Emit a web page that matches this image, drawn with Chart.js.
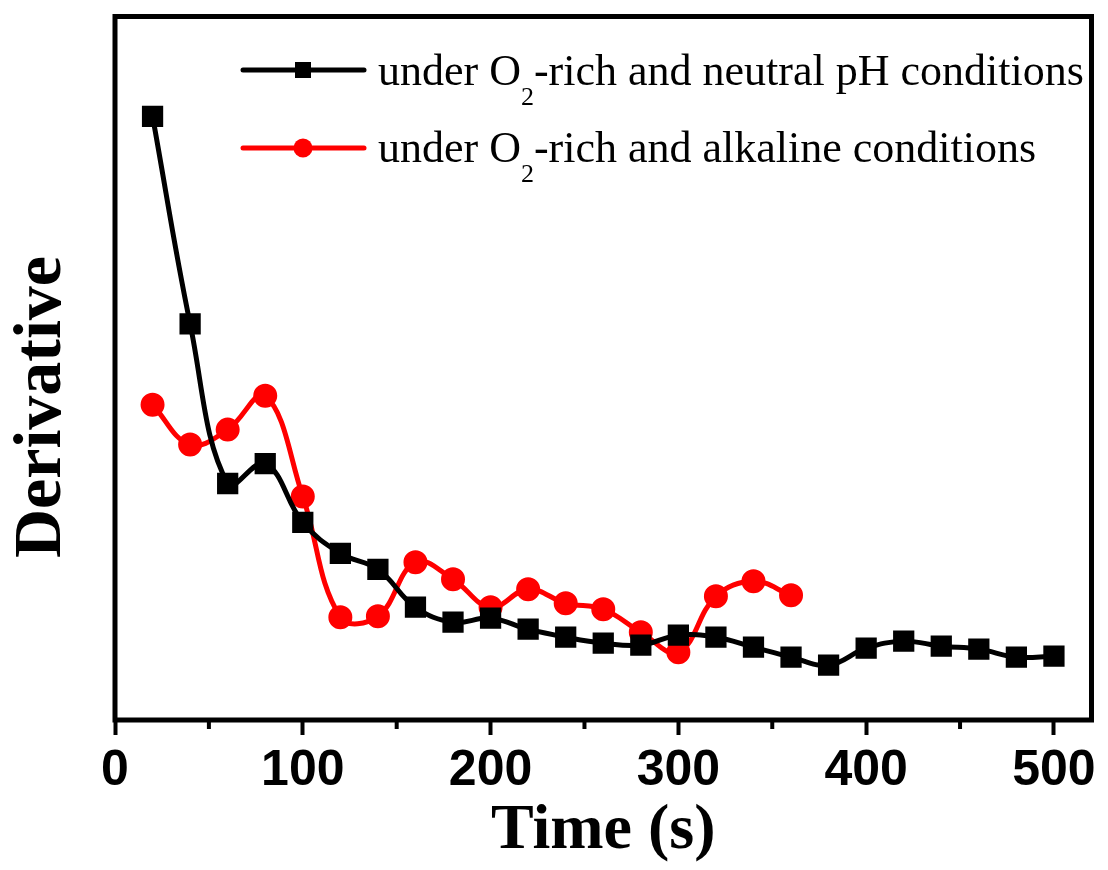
<!DOCTYPE html>
<html>
<head>
<meta charset="utf-8">
<title>Derivative vs Time</title>
<script src="https://cdn.jsdelivr.net/npm/chart.js@4/dist/chart.umd.min.js"></script>
<style>
  html, body { margin: 0; padding: 0; background: #fff; }
  #wrap { width: 1108px; height: 870px; position: relative; }
</style>
</head>
<body>
<div id="wrap"><canvas id="derivChart"></canvas></div>
<script>
  /* ── Data (arbitrary derivative units) ── */
  const timeNeutral = [20, 40, 60, 80, 100, 120, 140, 160, 180, 200, 220, 240, 260,
                       280, 300, 320, 340, 360, 380, 400, 420, 440, 460, 480, 500];
  const derivNeutral = [6.05, 3.97, 2.37, 2.57, 1.98, 1.67, 1.51, 1.13, 0.98, 1.02, 0.91, 0.83, 0.77,
                        0.75, 0.85, 0.83, 0.73, 0.63, 0.55, 0.72, 0.79, 0.74, 0.71, 0.63, 0.64];
  const timeAlkaline = [20, 40, 60, 80, 100, 120, 140, 160, 180, 200, 220, 240, 260,
                        280, 300, 320, 340, 360];
  const derivAlkaline = [3.16, 2.76, 2.91, 3.25, 2.24, 1.03, 1.04, 1.58, 1.41, 1.13, 1.31, 1.17, 1.11,
                         0.88, 0.68, 1.24, 1.39, 1.25];
  const seriesNames = ['neutral pH', 'alkaline'];
  const xTicks = [0, 100, 200, 300, 400, 500];
  const xMinorTicks = [50, 150, 250, 350, 450];

  const toPoints = (xs, ys) => xs.map((x, i) => ({ x, y: ys[i] }));
  const SERIF = '"Liberation Serif", "Times New Roman", serif';

  /* ── Frame, minor ticks, y title and legend (O2 needs a subscript) ── */
  const extras = {
    id: 'extras',
    afterDraw(chart) {
      const { ctx, chartArea: a, scales } = chart;
      ctx.save();
      ctx.strokeStyle = '#000';
      ctx.lineWidth = 5;
      ctx.strokeRect(a.left, a.top, a.right - a.left, a.bottom - a.top);

      ctx.lineWidth = 4;
      xMinorTicks.forEach(v => {
        const px = scales.x.getPixelForValue(v);
        ctx.beginPath();
        ctx.moveTo(px, a.bottom);
        ctx.lineTo(px, a.bottom + 9);
        ctx.stroke();
      });

      // y title sits a little below the centre in the original
      ctx.save();
      ctx.translate(42, 407);
      ctx.rotate(-Math.PI / 2);
      ctx.fillStyle = '#000';
      ctx.font = 'bold 68px ' + SERIF;
      ctx.textAlign = 'center';
      ctx.textBaseline = 'middle';
      ctx.fillText('Derivative', 0, 0);
      ctx.restore();

      const rows = [
        { ds: chart.data.datasets[0], y: 70, base: 85 },
        { ds: chart.data.datasets[1], y: 148, base: 162 }
      ];
      rows.forEach(r => {
        ctx.strokeStyle = r.ds.borderColor;
        ctx.fillStyle = r.ds.borderColor;
        ctx.lineWidth = 5;
        ctx.lineCap = 'round';
        ctx.beginPath();
        ctx.moveTo(243, r.y);
        ctx.lineTo(364, r.y);
        ctx.stroke();
        if (r.ds.pointStyle === 'rect') {
          ctx.fillRect(303 - 8, r.y - 8, 16, 16);
        } else {
          ctx.beginPath();
          ctx.arc(303, r.y, 9.5, 0, Math.PI * 2);
          ctx.fill();
        }
        const rest = r.ds.label === seriesNames[0]
          ? '-rich and neutral pH conditions'
          : '-rich and alkaline conditions';
        ctx.fillStyle = '#000';
        ctx.textBaseline = 'alphabetic';
        ctx.textAlign = 'left';
        let x = 378;
        ctx.font = '44px ' + SERIF;
        ctx.fillText('under O', x, r.base);
        x += ctx.measureText('under O').width;
        ctx.font = '26px ' + SERIF;
        ctx.fillText('2', x, r.base + 20);
        x += ctx.measureText('2').width;
        ctx.font = '44px ' + SERIF;
        ctx.fillText(rest, x, r.base);
      });
      ctx.restore();
    }
  };

  const ctx = document.getElementById('derivChart').getContext('2d');
  new Chart(ctx, {
    type: 'line',
    data: {
      datasets: [{
        label: seriesNames[0],
        data: toPoints(timeNeutral, derivNeutral),
        borderColor: '#000000',
        backgroundColor: '#000000',
        borderWidth: 5,
        pointStyle: 'rect',
        pointRadius: 11.5,
        pointHoverRadius: 11.5,
        tension: 0.4
      }, {
        label: seriesNames[1],
        data: toPoints(timeAlkaline, derivAlkaline),
        borderColor: '#ff0000',
        backgroundColor: '#ff0000',
        borderWidth: 5,
        pointStyle: 'circle',
        pointRadius: 9.5,
        pointHoverRadius: 9.5,
        tension: 0.4
      }]
    },
    options: {
      responsive: true,
      maintainAspectRatio: false,
      animation: false,
      layout: { padding: { top: 15, right: 10, left: 0, bottom: 0 } },
      plugins: {
        legend: { display: false },
        tooltip: { enabled: false }
      },
      scales: {
        x: {
          type: 'linear',
          min: 0,
          max: 520,
          afterFit: s => { s.height = 150; },
          afterBuildTicks: s => { s.ticks = xTicks.map(v => ({ value: v })); },
          ticks: {
            color: '#000',
            padding: 6,
            maxRotation: 0,
            font: { size: 50, weight: 'bold', family: '"Liberation Sans", Arial, sans-serif' }
          },
          grid: { display: true, drawOnChartArea: false, tickLength: 15, tickWidth: 4, tickColor: '#000' },
          border: { display: false },
          title: {
            display: true,
            text: 'Time (s)',
            color: '#000',
            padding: { top: 0, bottom: 0 },
            font: { size: 64, weight: 'bold', family: SERIF }
          }
        },
        y: {
          min: 0,
          max: 7.05,
          afterFit: s => { s.width = 115; },
          ticks: { display: false },
          grid: { display: false },
          border: { display: false },
          title: { display: false }
        }
      }
    },
    plugins: [extras]
  });
</script>
</body>
</html>
